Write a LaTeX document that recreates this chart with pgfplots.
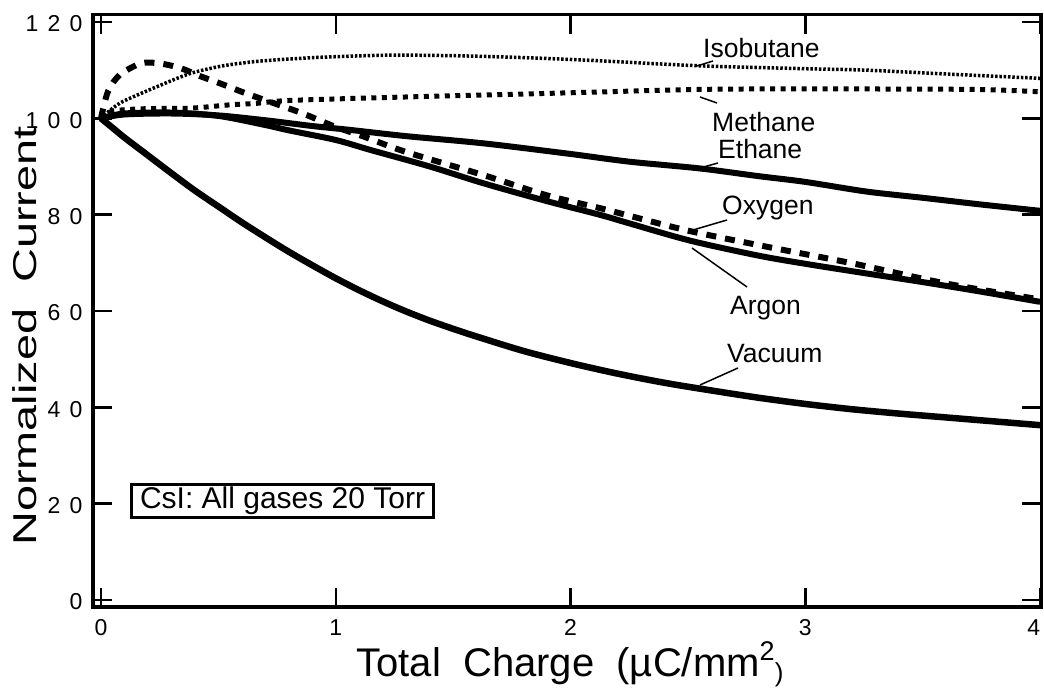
\documentclass[border=0pt]{standalone}
\usepackage{pgfplots}
\pgfplotsset{compat=1.18}
\usepackage{fontspec}
\setmainfont{Liberation Sans}
\newfontfamily\tickfont[LetterSpace=40]{Liberation Sans}
\newcommand\tkf{\fontsize{23bp}{26bp}\tickfont}

\begin{document}
\begin{tikzpicture}
\path[use as bounding box] (0,0) rectangle (1044bp,690bp);
\begin{axis}[
  at={(93bp,83bp)}, anchor=south west,
  scale only axis, width=948bp, height=592bp,
  xmin=-0.034, xmax=4.004, ymin=-1.45, ymax=121.45,
  xtick={0,1,2,3,4}, ytick={0,20,40,60,80,100,120},
  xticklabels={{\tkf 0},{\tkf 1},{\tkf 2},{\tkf 3},{\tkf\makebox[0pt][r]{4}}},
  yticklabels={{\tkf 0},{\tkf 20},{\tkf 40},{\tkf 60},{\tkf 80},{\tkf 100},{\tkf 120}},
  tick align=inside, major tick length=19bp,
  every tick/.style={line width=2.5bp, black},
  axis line style={line width=3bp},
  xticklabel style={yshift=-9bp},
  yticklabel style={xshift=-7bp, yshift=-2bp},
]
% Isobutane
\addplot[black, line width=3.5bp, dash pattern=on 2.5bp off 1.8bp, smooth] coordinates {
(0,100) (0.03,101.3) (0.09,103.4) (0.24,106.6) (0.38,109.3) (0.52,110.9) (0.66,111.8)
(0.8,112.3) (0.95,112.7) (1.22,113.1) (1.5,113) (1.8,112.6) (2.1,112) (2.55,110.9)
(3.0,110.3) (3.26,110) (3.6,109.2) (4.0,108.3)};
% Methane
\addplot[black, line width=5bp, dash pattern=on 5bp off 5.5bp, smooth] coordinates {
(0,100) (0.05,101.5) (0.19,102) (0.38,102.1) (0.55,102.8) (0.66,103.1) (0.8,103.7)
(1.2,104.3) (1.6,104.8) (2.0,105.3) (2.55,106.0) (3.0,106.1) (3.71,106) (4.0,105.5)};
% Oxygen
\addplot[black, line width=6bp, dash pattern=on 10bp off 9bp, smooth] coordinates {
(0,100) (0.03,105.6) (0.08,109) (0.17,111.4) (0.25,111.4) (0.34,110.4) (0.42,108.8)
(0.51,107.2) (0.6,105.5) (0.68,104.1) (0.78,102.4) (0.86,101) (0.93,99.6) (1.0,98.2)
(1.12,96.2) (1.3,93) (1.63,88.2) (1.9,84) (2.13,81.3) (2.49,76.8) (2.84,73.3)
(3.2,69.9) (3.6,65.7) (4.0,62.4)};
% Ethane
\addplot[black, line width=6bp, smooth] coordinates {
(0,100) (0.1,100.8) (0.3,101) (0.5,100.6) (0.7,99.6) (0.9,98.4) (1.06,97.6) (1.3,96.3)
(1.63,94.8) (2.0,92.6) (2.25,91) (2.55,89.6) (2.8,88) (3.0,86.8) (3.26,84.8) (3.5,83.5)
(3.75,82.1) (4.0,80.8)};
% Argon
\addplot[black, line width=6bp, smooth] coordinates {
(0,100) (0.1,101) (0.3,101.2) (0.5,100.5) (0.7,98.6) (0.8,97.5) (1.0,95.5) (1.15,93.4)
(1.4,90) (1.63,86.5) (1.9,82.8) (2.13,79.9) (2.25,78.2) (2.51,74.6) (2.8,71.5) (3.0,69.8)
(3.26,67.8) (3.5,66) (3.75,64) (4.0,61.9)};
% Vacuum
\addplot[black, line width=6.5bp, smooth] coordinates {
(0,100) (0.05,98) (0.1,96) (0.2,92.3) (0.3,88.6) (0.4,85) (0.5,81.7) (0.6,78.4) (0.7,75.3)
(0.8,72.3) (0.9,69.5) (1.0,66.8) (1.1,64.3) (1.2,62) (1.3,59.9) (1.4,58) (1.5,56.3)
(1.6,54.7) (1.8,51.7) (2.0,49.2) (2.2,47) (2.4,45.1) (2.6,43.5) (2.8,42) (3.0,40.7)
(3.2,39.6) (3.4,38.7) (3.6,37.9) (3.8,37.1) (4.0,36.3)};
\end{axis}
% curve labels (pixel positions, y measured from bottom)
\begin{scope}[every node/.style={font=\fontsize{26.5bp}{30bp}\selectfont, inner sep=0pt, anchor=base west}]
\node at (703bp,632bp) {Isobutane};
\node at (712bp,558bp) {Methane};
\node at (718bp,531bp) {Ethane};
\node at (722bp,475bp) {Oxygen};
\node at (730bp,375bp) {Argon};
\node at (727bp,327bp) {Vacuum};
\end{scope}
\begin{scope}[line width=1.5bp]
\draw (697bp,624bp) -- (713bp,629bp);
\draw (700bp,593bp) -- (717bp,587bp);
\draw (700bp,522bp) -- (718bp,527bp);
\draw (693bp,460bp) -- (727bp,470bp);
\draw (692bp,442bp) -- (747bp,403bp);
\draw (700bp,305bp) -- (738bp,322bp);
\end{scope}
% annotation box
\node[draw, line width=3bp, anchor=west, inner xsep=8.5bp, inner ysep=3bp,
      font=\fontsize{30bp}{33bp}\selectfont] at (130bp,189bp) {CsI: All gases 20 Torr};
% axis labels
\node[anchor=base, font=\fontsize{40bp}{44bp}\selectfont] at (570bp,14bp)
  {Total\ \ Charge\ \ (µC/mm\raisebox{16bp}{\fontsize{27bp}{30bp}\selectfont 2}\raisebox{-5bp}{\fontsize{26bp}{28bp}\selectfont)}};
\node[rotate=90, font=\fontsize{33bp}{38bp}\selectfont] at (25bp,354bp)
  {\scalebox{1.42}[1]{Normalized\ \ Current}};
\end{tikzpicture}
\end{document}
